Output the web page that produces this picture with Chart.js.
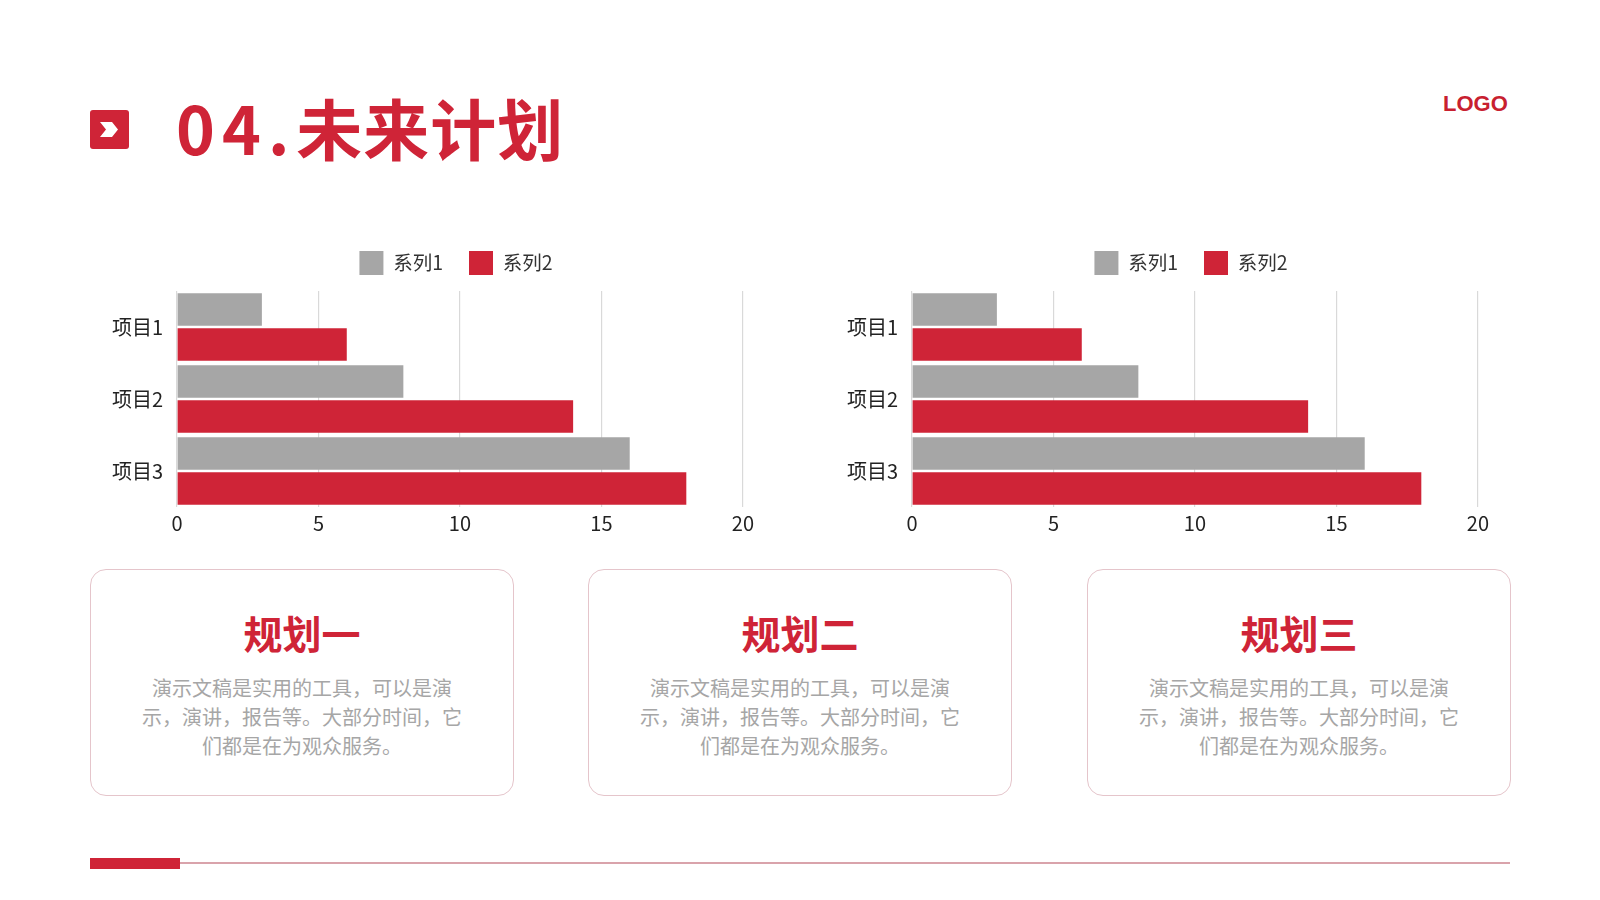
<!DOCTYPE html>
<html>
<head>
<meta charset="utf-8">
<script src="https://cdn.jsdelivr.net/npm/chart.js@4.4.1/dist/chart.umd.min.js"></script>
<style>
  html, body { margin:0; padding:0; background:#ffffff; }
  body { width:1600px; height:900px; position:relative; overflow:hidden; font-family:"Noto Sans CJK SC","Noto Sans",sans-serif; }
  .icon { position:absolute; left:90px; top:110px; width:39px; height:39px; background:#cf2437; border-radius:3px; }
  .title { position:absolute; left:176px; top:91px; font-size:66px; line-height:70px; font-weight:700; color:#cf2437; letter-spacing:1px; white-space:nowrap; }
  .title .num { letter-spacing:7px; }
  .logo { position:absolute; left:1443px; top:91px; font-family:"Liberation Sans",Arial,sans-serif; font-weight:700; font-size:22px; color:#c8202f; }
  .chartbox { position:absolute; }
  .card { position:absolute; top:569px; width:424px; height:227px; border:1.5px solid #e5c5cb; border-radius:16px; box-sizing:border-box; text-align:center; }
  .card h2 { margin:0; position:absolute; left:0; right:0; top:37px; font-size:39px; line-height:50px; font-weight:700; color:#cf2437; }
  .card p { margin:0; position:absolute; left:0; right:0; top:104px; font-size:20px; line-height:28.8px; color:#a6a6a6; }
  .footbar { position:absolute; left:90px; top:858px; width:90px; height:11px; background:#cf2437; }
  .footline { position:absolute; left:180px; top:862px; width:1330px; height:2px; background:#d9a3ab; }
</style>
</head>
<body>
<div class="icon">
  <svg width="39" height="39" viewBox="0 0 39 39"><polygon points="10,12 22,12 28,19.5 22,27 10,27 16,19.5" fill="#ffffff"/></svg>
</div>
<div class="title"><span class="num">04.</span>未来计划</div>
<div class="logo">LOGO</div>

<div class="chartbox" style="left:100px;top:225px;width:658px;height:314px;"><canvas id="c1"></canvas></div>
<div class="chartbox" style="left:834.5px;top:225px;width:658px;height:314px;"><canvas id="c2"></canvas></div>

<div class="card" style="left:90px;"><h2>规划一</h2><p>演示文稿是实用的工具，可以是演<br>示，演讲，报告等。大部分时间，它<br>们都是在为观众服务。</p></div>
<div class="card" style="left:588px;"><h2>规划二</h2><p>演示文稿是实用的工具，可以是演<br>示，演讲，报告等。大部分时间，它<br>们都是在为观众服务。</p></div>
<div class="card" style="left:1087px;"><h2>规划三</h2><p>演示文稿是实用的工具，可以是演<br>示，演讲，报告等。大部分时间，它<br>们都是在为观众服务。</p></div>

<div class="footbar"></div>
<div class="footline"></div>

<script>
const categories = ["项目1", "项目2", "项目3"];
const seriesNames = ["系列1", "系列2"];
const series1 = [3, 8, 16];
const series2 = [6, 14, 18];
const xTicks = [0, 5, 10, 15, 20];

const GRAY = "#a6a6a6";
const RED = "#cf2437";
const FONT = "'Noto Sans CJK SC','Noto Sans',sans-serif";
const LEGEND_HEIGHT = 66;
const LEGEND_SHIFT = 29;

const legendTweakPlugin = {
  id: "legendTweak",
  beforeUpdate(chart) {
    const lg = chart.legend;
    if (lg && !lg._patchedFit) {
      const orig = lg.fit;
      lg.fit = function () { orig.call(this); this.height = LEGEND_HEIGHT; };
      lg._patchedFit = true;
    }
  },
  afterLayout(chart) {
    const lg = chart.legend;
    if (lg) { lg.left += LEGEND_SHIFT; lg.right += LEGEND_SHIFT; }
  }
};

function makeChart(id) {
  return new Chart(document.getElementById(id), {
    type: "bar",
    data: {
      labels: categories,
      datasets: [
        { label: seriesNames[0], data: series1, backgroundColor: GRAY, borderWidth: 0, barPercentage: 0.93, categoryPercentage: 0.975 },
        { label: seriesNames[1], data: series2, backgroundColor: RED, borderWidth: 0, barPercentage: 0.93, categoryPercentage: 0.975 }
      ]
    },
    plugins: [legendTweakPlugin],
    options: {
      indexAxis: "y",
      responsive: true,
      maintainAspectRatio: false,
      animation: false,
      layout: { padding: { top: 0, right: 4, bottom: 0, left: 0 } },
      plugins: {
        legend: {
          position: "top",
          labels: {
            boxWidth: 24, boxHeight: 24, padding: 26,
            color: "#333333",
            font: { family: FONT, size: 19.5 }
          }
        },
        tooltip: { enabled: false }
      },
      scales: {
        x: {
          min: 0, max: 20,
          afterBuildTicks: (s) => { s.ticks = xTicks.map(v => ({ value: v })); },
          grid: { color: "#d9d9d9", lineWidth: 1.2, drawTicks: false, drawOnChartArea: true },
          border: { display: false },
          ticks: { color: "#222222", padding: 4, font: { family: FONT, size: 20 } }
        },
        y: {
          grid: { display: false, drawTicks: false },
          border: { display: false },
          afterFit: (s) => { s.width = 77; },
          ticks: { color: "#222222", padding: 14, font: { family: FONT, size: 20 } }
        }
      }
    }
  });
}
makeChart("c1");
makeChart("c2");
</script>
</body>
</html>
